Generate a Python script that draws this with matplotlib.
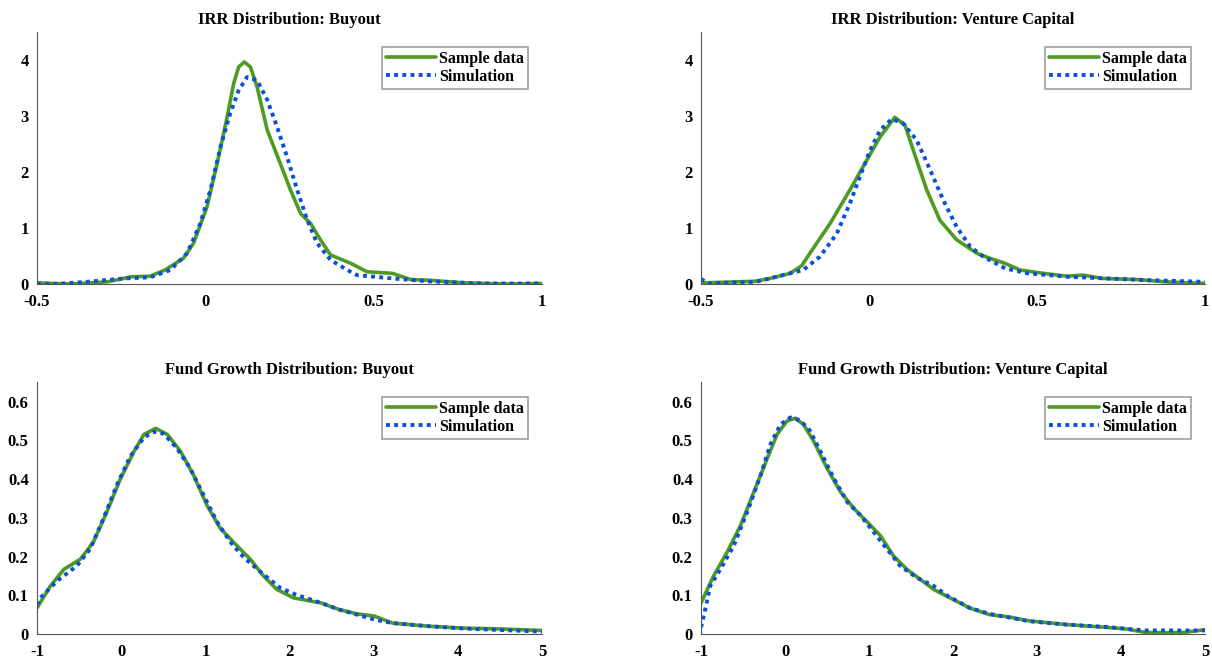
import matplotlib
matplotlib.use("Agg")
import matplotlib.pyplot as plt

plt.rcParams["font.family"] = "Liberation Serif"
plt.rcParams["font.weight"] = "bold"

GREEN = "#4f9a22"
BLUE = "#0a50d8"

# ---- IRR: Buyout ----
irr_bo_sample_x = [-0.5, -0.4, -0.29, -0.22, -0.164, -0.12, -0.065, -0.035, 0.005, 0.035, 0.065,
                   0.084, 0.099, 0.116, 0.134, 0.154, 0.184, 0.223, 0.253, 0.283, 0.313, 0.342,
                   0.372, 0.432, 0.48, 0.556, 0.61, 0.66, 0.77, 0.9, 1.0]
irr_bo_sample_y = [0.02, 0.0, 0.04, 0.13, 0.14, 0.25, 0.46, 0.73, 1.38, 2.15, 2.99,
                   3.58, 3.88, 3.97, 3.88, 3.52, 2.75, 2.15, 1.68, 1.26, 1.08, 0.79,
                   0.52, 0.37, 0.22, 0.19, 0.08, 0.07, 0.02, 0.0, 0.01]
irr_bo_sim_x = [-0.5, -0.45, -0.35, -0.24, -0.164, -0.104, -0.054, -0.015, 0.015, 0.045, 0.074,
                0.099, 0.124, 0.154, 0.184, 0.213, 0.243, 0.273, 0.303, 0.332, 0.372, 0.422,
                0.45, 0.556, 0.66, 0.82, 1.0]
irr_bo_sim_y = [0.01, 0.0, 0.04, 0.1, 0.12, 0.25, 0.55, 1.08, 1.68, 2.45, 3.05,
                3.46, 3.70, 3.64, 3.29, 2.81, 2.27, 1.68, 1.14, 0.73, 0.43, 0.25,
                0.16, 0.1, 0.05, 0.01, 0.01]

# ---- IRR: Venture Capital ----
irr_vc_sample_x = [-0.5, -0.338, -0.295, -0.235, -0.2, -0.176, -0.116, -0.057, -0.007, 0.033, 0.077,
                   0.107, 0.142, 0.172, 0.211, 0.261, 0.321, 0.36, 0.405, 0.45, 0.52, 0.59,
                   0.637, 0.695, 0.8, 0.88, 1.0]
irr_vc_sample_y = [0.02, 0.05, 0.10, 0.19, 0.33, 0.55, 1.08, 1.68, 2.21, 2.63, 2.98,
                   2.84, 2.21, 1.68, 1.14, 0.79, 0.55, 0.46, 0.37, 0.25, 0.19, 0.14,
                   0.16, 0.1, 0.08, 0.04, 0.01]
irr_vc_sim_x = [-0.5, -0.477, -0.338, -0.295, -0.196, -0.146, -0.096, -0.057, -0.027, 0.003,
                0.033, 0.068, 0.102, 0.142, 0.182, 0.221, 0.261, 0.301, 0.34, 0.405, 0.474,
                0.59, 0.706, 0.822, 1.0]
irr_vc_sim_y = [0.09, 0.01, 0.04, 0.10, 0.25, 0.49, 0.90, 1.44, 1.92, 2.39,
                2.75, 2.95, 2.87, 2.57, 2.04, 1.50, 1.02, 0.67, 0.49, 0.28, 0.19,
                0.13, 0.1, 0.07, 0.04]

# ---- Fund Growth: Buyout ----
fg_bo_sample_x = [-1.0, -0.84, -0.68, -0.485, -0.33, -0.17, -0.01, 0.15, 0.27, 0.41, 0.55,
                  0.71, 0.86, 1.02, 1.18, 1.375, 1.535, 1.69, 1.85, 2.05, 2.376, 2.59,
                  2.8, 3.01, 3.225, 3.65, 4.07, 4.5, 5.0]
fg_bo_sample_y = [0.067, 0.124, 0.167, 0.193, 0.237, 0.315, 0.40, 0.47, 0.515, 0.531, 0.515,
                  0.47, 0.41, 0.332, 0.272, 0.228, 0.193, 0.150, 0.115, 0.093, 0.08, 0.063,
                  0.052, 0.046, 0.028, 0.02, 0.015, 0.013, 0.009]
fg_bo_sim_x = [-1.0, -0.96, -0.76, -0.525, -0.37, -0.21, -0.05, 0.11, 0.27, 0.385, 0.505,
               0.66, 0.82, 0.98, 1.14, 1.30, 1.455, 1.69, 1.89, 2.07, 2.376, 2.59,
               2.8, 3.01, 3.225, 3.65, 4.07, 5.0]
fg_bo_sim_y = [0.075, 0.093, 0.137, 0.176, 0.219, 0.298, 0.385, 0.459, 0.507, 0.522, 0.517,
               0.48, 0.428, 0.358, 0.289, 0.237, 0.198, 0.154, 0.119, 0.102, 0.08, 0.063,
               0.05, 0.037, 0.028, 0.02, 0.014, 0.006]

# ---- Fund Growth: Venture Capital ----
fg_vc_sample_x = [-1.0, -0.85, -0.69, -0.53, -0.37, -0.21, -0.095, 0.024, 0.12, 0.22, 0.34,
                  0.50, 0.66, 0.82, 0.98, 1.135, 1.29, 1.45, 1.61, 1.77, 1.93, 2.2,
                  2.434, 2.666, 2.9, 3.36, 3.83, 4.06, 4.29, 4.52, 4.75, 5.0]
fg_vc_sample_y = [0.080, 0.150, 0.211, 0.280, 0.367, 0.454, 0.515, 0.55, 0.557, 0.541, 0.498,
                  0.428, 0.367, 0.324, 0.289, 0.254, 0.202, 0.167, 0.141, 0.115, 0.097, 0.067,
                  0.05, 0.044, 0.034, 0.024, 0.017, 0.013, 0.004, 0.003, 0.004, 0.011]
fg_vc_sim_x = [-1.0, -0.95, -0.89, -0.77, -0.61, -0.45, -0.29, -0.175, -0.055, 0.063, 0.18,
               0.30, 0.42, 0.58, 0.74, 0.90, 1.055, 1.215, 1.37, 1.57, 1.77, 1.93,
               2.2, 2.434, 2.9, 3.36, 3.83, 4.29, 5.0]
fg_vc_sim_y = [0.017, 0.063, 0.124, 0.167, 0.228, 0.315, 0.41, 0.489, 0.541, 0.559, 0.552,
               0.524, 0.472, 0.402, 0.341, 0.306, 0.263, 0.219, 0.176, 0.145, 0.124, 0.099,
               0.067, 0.052, 0.033, 0.024, 0.018, 0.009, 0.009]

irr_xticks = [-0.5, 0, 0.5, 1]
irr_xlabels = ["-0.5", "0", "0.5", "1"]
irr_yticks = [0, 1, 2, 3, 4]
irr_ylabels = ["0", "1", "2", "3", "4"]
fg_xticks = [-1, 0, 1, 2, 3, 4, 5]
fg_xlabels = ["-1", "0", "1", "2", "3", "4", "5"]
fg_yticks = [0, 0.1, 0.2, 0.3, 0.4, 0.5, 0.6]
fg_ylabels = ["0", "0.1", "0.2", "0.3", "0.4", "0.5", "0.6"]

panels = [
    ("IRR Distribution: Buyout", irr_bo_sample_x, irr_bo_sample_y, irr_bo_sim_x, irr_bo_sim_y,
     (-0.5, 1), (0, 4.5), irr_xticks, irr_xlabels, irr_yticks, irr_ylabels),
    ("IRR Distribution: Venture Capital", irr_vc_sample_x, irr_vc_sample_y, irr_vc_sim_x, irr_vc_sim_y,
     (-0.5, 1), (0, 4.5), irr_xticks, irr_xlabels, irr_yticks, irr_ylabels),
    ("Fund Growth Distribution: Buyout", fg_bo_sample_x, fg_bo_sample_y, fg_bo_sim_x, fg_bo_sim_y,
     (-1, 5), (0, 0.65), fg_xticks, fg_xlabels, fg_yticks, fg_ylabels),
    ("Fund Growth Distribution: Venture Capital", fg_vc_sample_x, fg_vc_sample_y, fg_vc_sim_x, fg_vc_sim_y,
     (-1, 5), (0, 0.65), fg_xticks, fg_xlabels, fg_yticks, fg_ylabels),
]

# axes rectangles (left, bottom, width, height) in figure fractions
rects = [
    (0.0305, 0.569, 0.4167, 0.382),
    (0.5784, 0.569, 0.4158, 0.382),
    (0.0305, 0.038, 0.4167, 0.382),
    (0.5784, 0.038, 0.4158, 0.382),
]

fig = plt.figure(figsize=(12.12, 6.59), dpi=100)

for rect, (title, sx, sy, mx, my, xlim, ylim, xt, xtl, yt, ytl) in zip(rects, panels):
    ax = fig.add_axes(rect)
    ax.plot(sx, sy, color=GREEN, lw=2.6, label="Sample data",
            solid_capstyle="round", solid_joinstyle="round")
    ax.plot(mx, my, color=BLUE, lw=2.8, linestyle=(0, (1, 1.1)), label="Simulation",
            dash_capstyle="butt")
    ax.set_xlim(*xlim)
    ax.set_ylim(*ylim)
    ax.set_xticks(xt)
    ax.set_xticklabels(xtl)
    ax.set_yticks(yt)
    ax.set_yticklabels(ytl)
    ax.tick_params(length=0, labelsize=12)
    ax.tick_params(axis="x", pad=7)
    ax.tick_params(axis="y", pad=6)
    for lab in ax.get_xticklabels() + ax.get_yticklabels():
        lab.set_fontweight("bold")
    ax.spines["top"].set_visible(False)
    ax.spines["right"].set_visible(False)
    ax.spines["left"].set_color("#555555")
    ax.spines["bottom"].set_color("#555555")
    ax.set_title(title, fontsize=12, fontweight="bold", pad=6)
    leg = ax.legend(loc="upper right", fontsize=11.5, frameon=True, fancybox=False,
                    handlelength=3.1, handletextpad=0.2, borderpad=0.25, labelspacing=0.15,
                    borderaxespad=0.9)
    leg.get_frame().set_edgecolor("#888888")
    leg.get_frame().set_linewidth(1.2)
    for t in leg.get_texts():
        t.set_fontweight("bold")

fig.savefig("out.png", dpi=100)
